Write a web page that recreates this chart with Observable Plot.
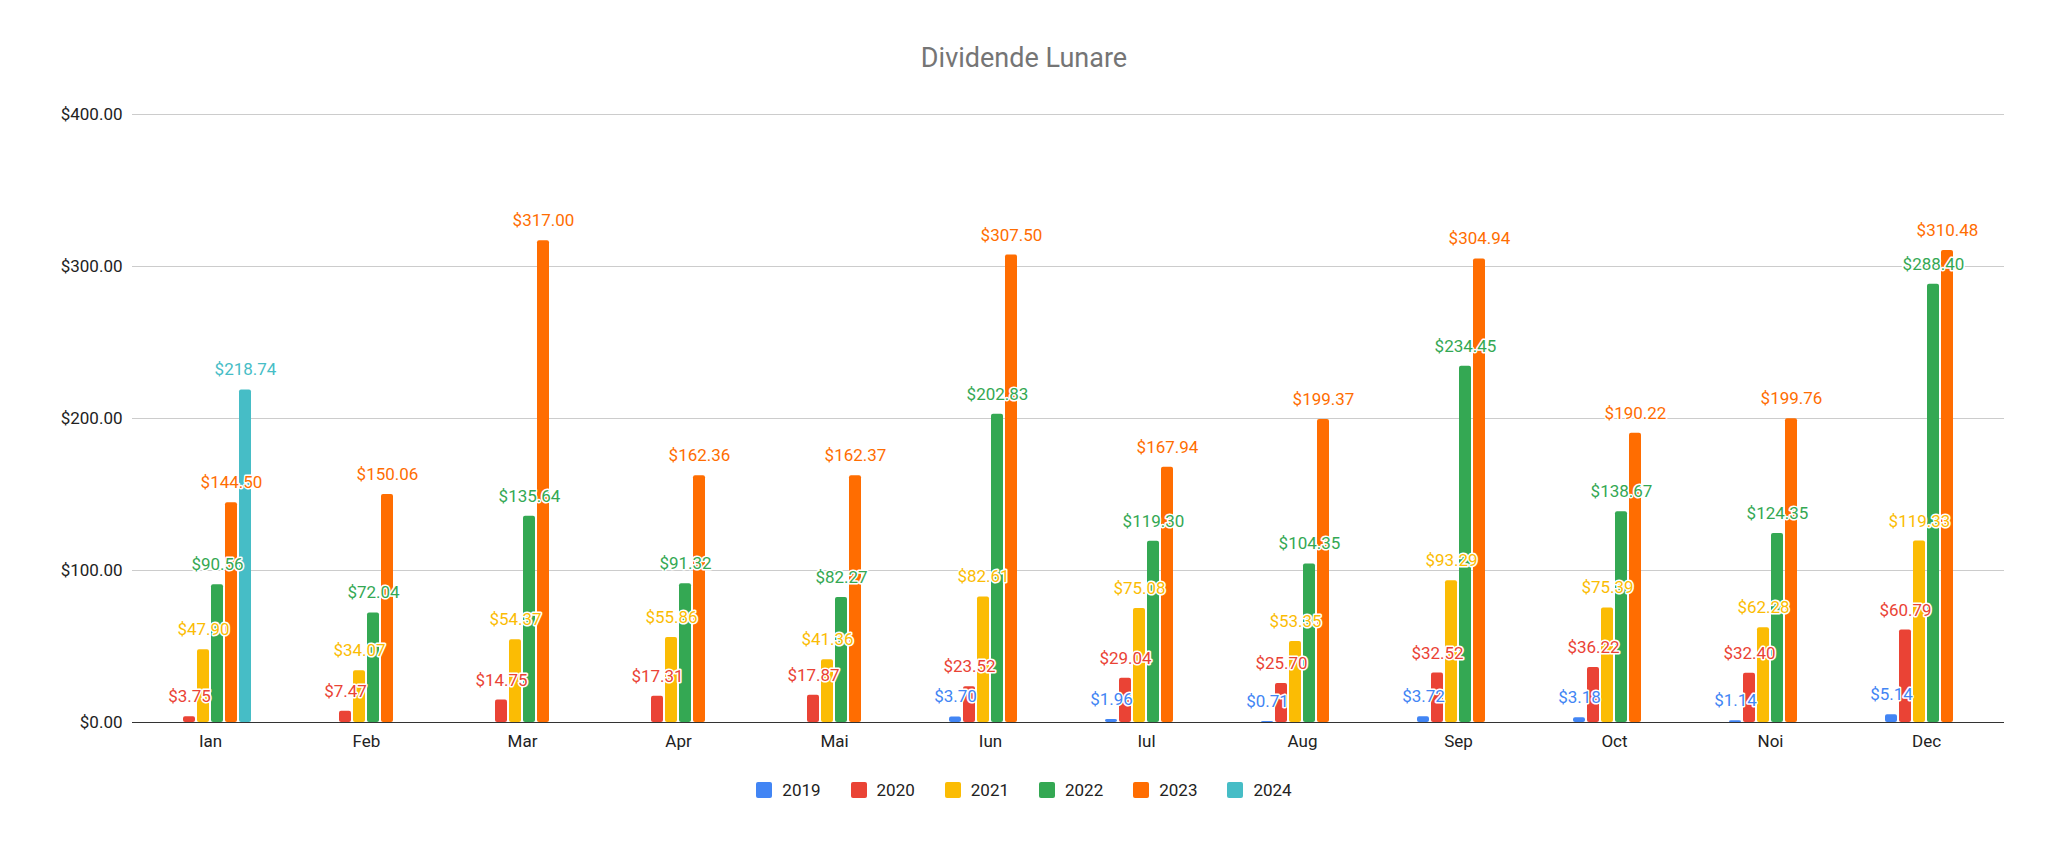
<!DOCTYPE html>
<html><head><meta charset="utf-8">
<script src="https://cdn.jsdelivr.net/npm/d3@7"></script>
<script src="https://cdn.jsdelivr.net/npm/@observablehq/plot@0.6"></script>
<style>
body{margin:0;background:#fff;font-family:Roboto,Arial,sans-serif;width:2048px}
#title{height:90px;line-height:116px;text-align:center;font-size:27px;color:#757575}
#legend{display:flex;justify-content:center;gap:30px;font-size:17px;color:#222;margin-top:10px}
#legend span{display:inline-flex;align-items:center;gap:10px}
#legend i{display:inline-block;width:16px;height:16px;border-radius:2px}
</style></head><body>
<div id="title">Dividende Lunare</div>
<div id="chart"></div>
<div id="legend"></div>
<script>
const months = ["Ian","Feb","Mar","Apr","Mai","Iun","Iul","Aug","Sep","Oct","Noi","Dec"];
const years = ["2019","2020","2021","2022","2023","2024"];
const colors = ["#4285F4","#EA4335","#FBBC04","#34A853","#FF6D01","#46BDC6"];
const v2019 = [null,null,null,null,null,3.70,1.96,0.71,3.72,3.18,1.14,5.14];
const v2020 = [3.75,7.47,14.75,17.31,17.87,23.52,29.04,25.70,32.52,36.22,32.40,60.79];
const v2021 = [47.90,34.07,54.37,55.86,41.36,82.61,75.08,53.35,93.29,75.39,62.28,119.33];
const v2022 = [90.56,72.04,135.64,91.32,82.27,202.83,119.30,104.35,234.45,138.67,124.35,288.40];
const v2023 = [144.50,150.06,317.00,162.36,162.37,307.50,167.94,199.37,304.94,190.22,199.76,310.48];
const v2024 = [218.74,null,null,null,null,null,null,null,null,null,null,null];
const series = [v2019,v2020,v2021,v2022,v2023,v2024];
const data = [];
series.forEach((s,i)=>s.forEach((v,j)=>{ if(v!=null) data.push({month:months[j],year:years[i],value:v}); }));
const fmt = d3.format("$,.2f");
const chart = Plot.plot({
  width:2048, height:680, marginTop:24, marginBottom:48, marginLeft:131, marginRight:43,
  style:{fontFamily:"Roboto, Arial, sans-serif", fontSize:"17px", color:"#222"},
  fx:{domain:months, padding:0, label:null, tickSize:0, tickPadding:12},
  x:{domain:years, axis:null, paddingInner:0.15, paddingOuter:2.55},
  y:{domain:[0,400], ticks:[0,100,200,300,400], tickFormat:fmt, label:null, tickSize:0, tickPadding:10, grid:false},
  color:{domain:years, range:colors},
  marks:[
    Plot.gridY([100,200,300,400],{stroke:"#ccc", strokeOpacity:1}),
    Plot.barY(data,{fx:"month", x:"year", y:"value", fill:"year", rx:2}),
    Plot.ruleY([0],{stroke:"#333"}),
    Plot.text(data,{fx:"month", x:"year", y:"value", text:d=>fmt(d.value), fill:"year", dy:-20, fontSize:17, stroke:"white", strokeWidth:3, paintOrder:"stroke"})
  ]
});
document.getElementById("chart").appendChild(chart);
document.getElementById("legend").innerHTML = years.map((y,i)=>`<span><i style="background:${colors[i]}"></i>${y}</span>`).join("");
</script>
</body></html>
